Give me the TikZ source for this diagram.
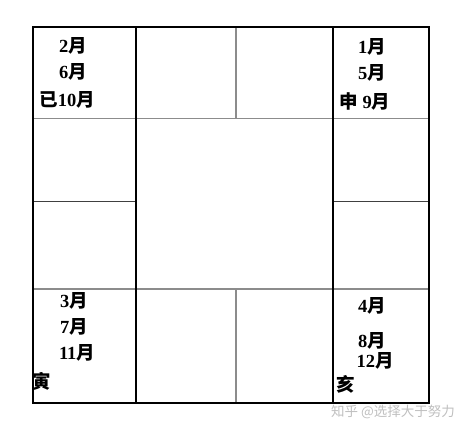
\documentclass[tikz,border=0pt]{standalone}
\usepackage{fontspec}
\setmainfont{Liberation Serif}
\newfontfamily\cjk{Noto Sans CJK SC}
\begin{document}
\begin{tikzpicture}[x=1pt,y=-1pt,
  txt/.style={font=\fontsize{18.5}{20}\selectfont\bfseries, inner sep=0pt},
  wm/.style={font=\fontsize{13.5}{14}\selectfont\cjk, text=black!25, inner sep=0pt},
  outer/.style={line width=2.6pt, black},
  blk/.style={line width=1.2pt, black},
  gry/.style={line width=1.3pt, black!45}]
\useasboundingbox (0,0) rectangle (465,434);
% grid coordinates
\coordinate (TL) at (33,27);
\coordinate (BR) at (429,403);
% inner lines
\draw[gry] (33,118.5) -- (429,118.5);
\draw[gry] (33,289) -- (429,289);
\draw[blk, black!75] (33,201.5) -- (136,201.5);
\draw[blk, black!75] (333,201.5) -- (429,201.5);
\draw[blk] (136,27) -- (136,403);
\draw[blk] (333,27) -- (333,403);
\draw[gry] (236,27) -- (236,118.5);
\draw[gry] (236,289) -- (236,403);
\draw[outer] (TL) rectangle (BR);
% top-left
\node[txt] (a1) at (73,46) {2{\cjk 月}};
\node[txt] (a2) at (73,72) {6{\cjk 月}};
\node[txt] (a3) at (67,99.5) {{\cjk 已}10{\cjk 月}};
% top-right
\node[txt] (b1) at (372,47) {1{\cjk 月}};
\node[txt] (b2) at (372,73) {5{\cjk 月}};
\node[txt] (b3) at (365,101) {{\cjk 申} 9{\cjk 月}};
% bottom-left
\node[txt] (c1) at (74,301) {3{\cjk 月}};
\node[txt] (c2) at (74,327) {7{\cjk 月}};
\node[txt] (c3) at (77,353) {11{\cjk 月}};
\node[txt] (c4) at (42,381) {{\cjk 寅}};
% bottom-right
\node[txt] (d1) at (372,306) {4{\cjk 月}};
\node[txt] (d2) at (372,341) {8{\cjk 月}};
\node[txt] (d3) at (375,361) {12{\cjk 月}};
\node[txt] (d4) at (346,384) {{\cjk 亥}};
% watermark
\node[wm] (w) at (393,412) {知乎 @选择大于努力};
\end{tikzpicture}
\end{document}
